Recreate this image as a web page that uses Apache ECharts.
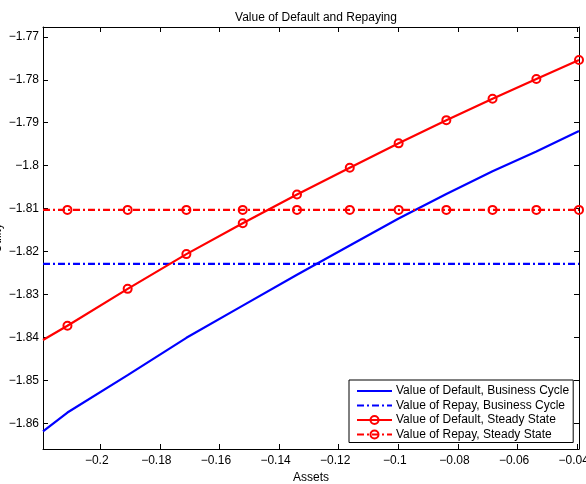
<!DOCTYPE html>
<html>
<head>
<meta charset="utf-8">
<script src="https://cdn.jsdelivr.net/npm/echarts@6/dist/echarts.min.js"></script>
<style>
  html, body { margin: 0; padding: 0; background: #fff; }
  #chart { width: 586px; height: 484px; }
</style>
</head>
<body>
<div id="chart"></div>
<script>
// asset grid (first point is the left edge, no marker there)
const assets = [-0.2192, -0.2110, -0.1908, -0.1711, -0.1522, -0.1340, -0.1163, -0.0999, -0.0839, -0.0684, -0.0537, -0.0394]
const defaultBC = [-1.8619, -1.8575, -1.8488, -1.8401, -1.8326, -1.8254, -1.8186, -1.8123, -1.8066, -1.8013, -1.7967, -1.7919]
const repayBC = [-1.8229, -1.8229, -1.8229, -1.8229, -1.8229, -1.8229, -1.8229, -1.8229, -1.8229, -1.8229, -1.8229, -1.8229]
const defaultSS = [-1.8406, -1.8373, -1.8287, -1.8206, -1.8134, -1.8067, -1.8005, -1.7948, -1.7894, -1.7844, -1.7798, -1.7754]
const repaySS = [-1.8103, -1.8103, -1.8103, -1.8103, -1.8103, -1.8103, -1.8103, -1.8103, -1.8103, -1.8103, -1.8103, -1.8103]
const markerOn = [false, true, true, true, true, true, true, true, true, true, true, true]

const xTicks = [-0.2, -0.18, -0.16, -0.14, -0.12, -0.1, -0.08, -0.06, -0.04]
const yTicks = [-1.86, -1.85, -1.84, -1.83, -1.82, -1.81, -1.8, -1.79, -1.78, -1.77]

const seriesNames = [
  'Value of Default, Business Cycle',
  'Value of Repay, Business Cycle',
  'Value of Default, Steady State',
  'Value of Repay, Steady State'
]

const FONT = 'Liberation Sans, Arial, Helvetica, sans-serif'
const FS = 12
const fmt = v => String(v).replace('-', '\u2212')

const pts = (ys, marks) => assets.map((x, i) => {
  const p = { value: [x, ys[i]] }
  if (marks && !marks[i]) p.symbol = 'none'
  return p
})

const dashDot = [7, 3, 2, 3]
const redMarker = { color: 'rgba(0,0,0,0)', borderColor: '#ff0000', borderWidth: 2 }
// blue lines have no markers; keep the legend symbol invisible too
const noMarker = { color: 'rgba(0,0,0,0)', borderWidth: 0 }

const chart = echarts.init(document.getElementById('chart'))

const frameAxis = {
  axisLine: { show: true, onZero: false, lineStyle: { color: '#000', width: 1 } },
  axisTick: { show: true, inside: true, length: 5, lineStyle: { color: '#000' } },
  splitLine: { show: false }
}

chart.setOption({
  animation: false,
  backgroundColor: '#fff',
  textStyle: { fontFamily: FONT },
  title: {
    text: 'Value of Default and Repaying',
    left: 311,
    top: 7,
    textAlign: 'center',
    textStyle: { fontSize: FS, fontWeight: 'normal', color: '#000', fontFamily: FONT }
  },
  grid: { left: 43, right: 7, top: 27, bottom: 35, containLabel: false, outerBoundsMode: 'none' },
  xAxis: [
    {
      ...frameAxis,
      type: 'value',
      position: 'bottom',
      min: -0.2192,
      max: -0.0394,
      name: 'Assets',
      nameLocation: 'middle',
      nameGap: 20,
      nameTextStyle: { fontSize: FS, color: '#000', fontFamily: FONT },
      axisTick: { ...frameAxis.axisTick, customValues: xTicks },
      axisLabel: { customValues: xTicks, formatter: fmt, fontSize: FS, color: '#000', margin: 6, fontFamily: FONT, padding: [0, 7, 0, 0] }
    },
    {
      ...frameAxis,
      type: 'value',
      position: 'top',
      min: -0.2192,
      max: -0.0394,
      axisTick: { ...frameAxis.axisTick, customValues: xTicks },
      axisLabel: { show: false }
    }
  ],
  yAxis: [
    {
      ...frameAxis,
      type: 'value',
      position: 'left',
      min: -1.866,
      max: -1.7677,
      name: 'Utility',
      nameLocation: 'middle',
      nameGap: 39,
      nameMoveOverlap: false,
      nameTextStyle: { fontSize: FS, color: '#000', fontFamily: FONT },
      axisTick: { ...frameAxis.axisTick, customValues: yTicks },
      axisLabel: { customValues: yTicks, formatter: fmt, fontSize: FS, color: '#000', margin: 4, fontFamily: FONT }
    },
    {
      ...frameAxis,
      type: 'value',
      position: 'right',
      min: -1.866,
      max: -1.7677,
      axisTick: { ...frameAxis.axisTick, customValues: yTicks },
      axisLabel: { show: false }
    }
  ],
  legend: {
    orient: 'vertical',
    left: 349,
    top: 380,
    padding: [5, 4, 2, 7],
    itemGap: 2.5,
    itemWidth: 35,
    itemHeight: 10,
    backgroundColor: '#fff',
    borderColor: '#000',
    borderWidth: 1,
    borderRadius: 0,
    textStyle: { fontSize: FS, color: '#000', fontFamily: FONT, padding: [0, 0, 0, -1] },
    data: seriesNames
  },
  series: [
    {
      name: seriesNames[0],
      type: 'line',
      data: pts(defaultBC),
      symbol: 'none',
      lineStyle: { color: '#0000ff', width: 2.2 },
      itemStyle: noMarker
    },
    {
      name: seriesNames[1],
      type: 'line',
      data: pts(repayBC),
      symbol: 'none',
      lineStyle: { color: '#0000ff', width: 2.2, type: dashDot },
      itemStyle: noMarker
    },
    {
      name: seriesNames[2],
      type: 'line',
      data: pts(defaultSS, markerOn),
      symbol: 'circle',
      symbolSize: 8,
      lineStyle: { color: '#ff0000', width: 2.2 },
      itemStyle: redMarker
    },
    {
      name: seriesNames[3],
      type: 'line',
      data: pts(repaySS, markerOn),
      symbol: 'circle',
      symbolSize: 8,
      lineStyle: { color: '#ff0000', width: 2.2, type: dashDot },
      itemStyle: redMarker
    }
  ]
})
</script>
</body>
</html>
